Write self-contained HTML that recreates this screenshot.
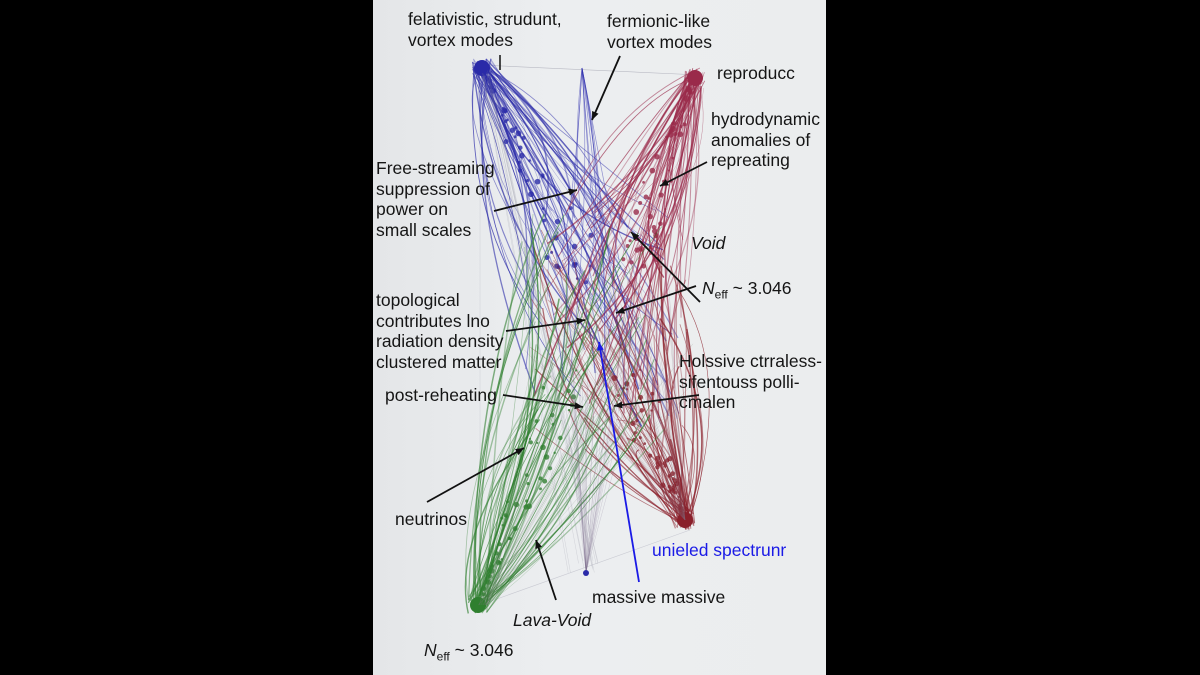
<!DOCTYPE html>
<html><head><meta charset="utf-8"><style>
html,body{margin:0;padding:0;background:#000;}
#w{position:relative;width:1200px;height:675px;background:#000;overflow:hidden;font-family:"Liberation Sans",sans-serif;}
#p{position:absolute;left:373px;top:0;width:453px;height:675px;background:linear-gradient(90deg,#e4e6e8,#eceef0 40%,#ebedee 100%);}
.t{position:absolute;font-size:17.5px;line-height:20.7px;color:#151515;white-space:nowrap;}
svg{position:absolute;left:0;top:0;}
</style></head><body><div id="w"><div id="p"></div>
<svg id="s" width="1200" height="675" viewBox="0 0 1200 675"></svg>
<div class="t" style="left:408px;top:9px">felativistic, strudunt,<br>vortex modes</div>
<div class="t" style="left:607px;top:11px">fermionic-like<br>vortex modes</div>
<div class="t" style="left:717px;top:63px">reproducc</div>
<div class="t" style="left:711px;top:109px">hydrodynamic<br>anomalies of<br>repreating</div>
<div class="t" style="left:376px;top:158px">Free-streaming<br>suppression of<br>power on<br>small scales</div>
<div class="t" style="left:691px;top:233px;font-style:italic">Void</div>
<div class="t" style="left:702px;top:278px"><i>N</i><sub style="font-size:12px">eff</sub> ~ 3.046</div>
<div class="t" style="left:376px;top:290px">topological<br>contributes lno<br>radiation density<br>clustered matter</div>
<div class="t" style="left:679px;top:351px">Holssive ctrraless-<br>sifentouss polli-<br>cmalen</div>
<div class="t" style="left:385px;top:385px">post-reheating</div>
<div class="t" style="left:395px;top:509px">neutrinos</div>
<div class="t" style="left:652px;top:540px;color:#1a1ae6">unieled spectrunr</div>
<div class="t" style="left:592px;top:587px">massive massive</div>
<div class="t" style="left:513px;top:610px;font-style:italic">Lava-Void</div>
<div class="t" style="left:424px;top:640px"><i>N</i><sub style="font-size:12px">eff</sub> ~ 3.046</div>
<script>
var s=document.getElementById('s'),h='',r=12345;
function R(){r=(r*16807)%2147483647;return r/2147483647;}
function L(x1,y1,x2,y2,c,w,o){h+='<line x1="'+x1+'" y1="'+y1+'" x2="'+x2+'" y2="'+y2+'" stroke="'+c+'" stroke-width="'+w+'" opacity="'+o+'"/>';}
function Q(x1,y1,cx,cy,x2,y2,c,w,o){h+='<path d="M'+x1+' '+y1+' Q'+cx+' '+cy+' '+x2+' '+y2+'" fill="none" stroke="'+c+'" stroke-width="'+w+'" opacity="'+o+'"/>';}
L(480,65,700,75,'#889',0.6,0.5);L(480,70,480,600,'#99a',0.5,0.3);L(480,605,690,530,'#99a',0.6,0.4);
var C=[[482,68,'#2a2aa8',600,320],[695,78,'#9a2a4a',610,320],[685,520,'#8a1f2a',610,340],[478,605,'#2f7f2f',595,320]];
C.forEach(function(c){for(var i=0;i<60;i++){var tx=c[3]+(R()-0.5)*160,ty=c[4]+(R()-0.5)*220;
var ex=c[0]+(R()-0.5)*20,ey=c[1]+(R()-0.5)*20;Q(ex,ey,(ex+tx)/2+(R()-0.5)*110,(ey+ty)/2+(R()-0.5)*90,tx,ty,c[2],0.4+R()*1.2,0.3+R()*0.5);}
for(var j=0;j<45;j++){var t=R()*0.8,x=c[0]+(c[3]-c[0])*t+(R()-0.5)*70*t,y=c[1]+(c[4]-c[1])*t+(R()-0.5)*50*t;h+='<circle cx="'+x+'" cy="'+y+'" r="'+(1+R()*2)+'" fill="'+c[2]+'" opacity=".8"/>';}
h+='<circle cx="'+c[0]+'" cy="'+c[1]+'" r="8" fill="'+c[2]+'"/>';});
for(var i=0;i<12;i++){L(482+R()*8,70+R()*8,560+R()*50,560+R()*14,'#889',0.4,0.35);Q(582,68,560+R()*60,200,560+R()*80,250+R()*150,'#3030b0',0.7,0.5);}
for(var i=0;i<30;i++){L(478+R()*10,605,540+R()*160,300+R()*100,'#6a7a6a',0.4,0.35);L(685,520,520+R()*150,250+R()*120,'#806070',0.4,0.35);L(586,572,560+R()*80,300+R()*100,'#7a6a8a',0.4,0.35);}
h+='<circle cx="586" cy="573" r="3" fill="#2a2aa8"/>';
function A(x1,y1,x2,y2,c){var a=Math.atan2(y2-y1,x2-x1),l=9;
h+='<line x1="'+x1+'" y1="'+y1+'" x2="'+x2+'" y2="'+y2+'" stroke="'+c+'" stroke-width="1.8"/>';
h+='<polygon points="'+x2+','+y2+' '+(x2-l*Math.cos(a-0.4))+','+(y2-l*Math.sin(a-0.4))+' '+(x2-l*Math.cos(a+0.4))+','+(y2-l*Math.sin(a+0.4))+'" fill="'+c+'"/>';}
L(500,55,500,70,'#111',1.5,1);
A(620,56,592,120,'#111');A(707,162,660,186,'#111');A(494,211,577,190,'#111');
A(700,302,631,232,'#111');A(696,286,616,313,'#111');A(506,331,585,320,'#111');
A(503,395,583,407,'#111');A(699,395,614,406,'#111');A(427,502,524,448,'#111');
A(556,600,536,540,'#111');A(639,582,599,342,'#1a1ae6');
s.innerHTML=h;
</script>
</div></body></html>
